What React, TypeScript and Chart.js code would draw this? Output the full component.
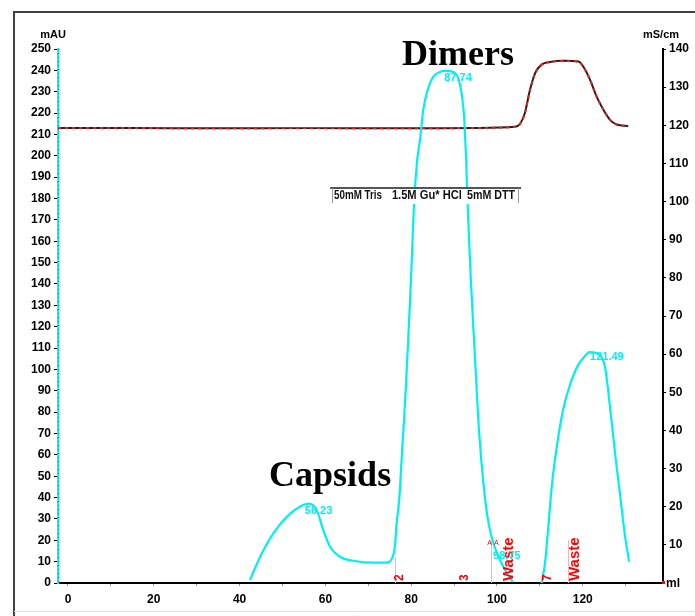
import React, { useEffect, useRef } from 'react';
import { Chart, registerables } from 'chart.js';

Chart.register(...registerables);

// ---- axis ranges / ticks ----
const xMin = -2.33;
const xMax = 138.7;
const xTickValues = [0, 10, 20, 30, 40, 50, 60, 70, 80, 90, 100, 110, 120, 130];
const xLabelValues = [0, 20, 40, 60, 80, 100, 120];
const leftTickValues = [0, 10, 20, 30, 40, 50, 60, 70, 80, 90, 100, 110, 120, 130, 140, 150, 160, 170, 180, 190, 200, 210, 220, 230, 240, 250];
const rightTickValues = [10, 20, 30, 40, 50, 60, 70, 80, 90, 100, 110, 120, 130, 140];

// ---- UV trace (mAU, left axis) ----
const uvX = [42.4, 44.8, 47.9, 51.0, 54.8, 56.2, 58.0, 59.5, 61.1, 63.4, 66.5, 71.2, 74.3, 75.5, 76.2, 76.6, 77.2,
  77.9, 78.6, 79.3, 79.95, 80.7, 81.4, 82.1, 82.8, 83.7, 85.1, 86.7, 87.7, 88.3, 89.9, 91.1, 91.8, 92.3, 92.8, 93.2,
  93.9, 94.9, 95.8, 97.0, 98.1, 99.3, 100.7, 102.3, 103.7,
  107.0,
  110.4, 111.2, 111.9, 112.8, 114.0, 115.4, 117.0, 118.9, 120.7, 121.5, 123.1, 124.5, 125.2, 125.9, 126.8, 127.7, 128.7, 129.8, 130.8];
const uvY = [1.4, 12.3, 23.3, 31.0, 36.5, 37.2, 34.0, 24.8, 17.0, 12.3, 10.4, 9.5, 9.5, 11.5, 17.0, 28.0, 38.9,
  62.3, 85.7, 113.8, 141.9, 179.3, 198.0, 208.3, 221.4, 229.9, 236.9, 239.2, 239.8, 239.7, 239.2, 235.5, 228.5, 219.1, 198.0, 174.6,
  141.9, 104.4, 71.6, 43.5, 27.2, 17.8, 10.8, 4.7, 0.5,
  null,
  0.0, 9.4, 24.8, 45.9, 64.6, 81.0, 92.7, 102.0, 106.7, 108.1, 107.7, 105.3, 101.0, 90.4, 74.0, 57.6, 41.2, 22.5, 10.0];

// ---- conductivity trace (mS/cm, right axis) ----
const condX = [-2.3, 15, 35, 55, 75, 95, 104.2, 105.4, 106.5, 107.7, 108.9, 110.4, 112.4, 115.5, 119.0, 120.1, 121.7, 123.2, 124.8, 126.3, 127.9, 130.6];
const condY = [119.3, 119.3, 119.2, 119.3, 119.2, 119.3, 119.6, 120.4, 123.2, 129.3, 133.7, 135.9, 136.6, 136.9, 136.7, 135.4, 131.9, 127.6, 124.1, 121.5, 120.2, 119.8];

// ---- peak labels ----
const peakLabels = ['56.23', '87.74', '98.75', '121.49'];
const peakLabelX = [55.2, 87.7, 99.1, 121.7];
const peakLabelY = [33.7, 236.4, 12.6, 105.8];

// ---- fractions ----
const fracLabels = ['2', '3', 'Waste', '7', 'Waste'];
const fracLabelX = [77.4, 92.5, 102.8, 111.9, 118.2];
const fracLineX = [76.2, 98.6, 116.6];
const fracLineTop = [12, 20, 20];
const injectMarkX = 100.0;
const injectMarkY = 18.7;

// ---- annotations ----
const bigLabels = ['Dimers', 'Capsids'];
const bigLabelX = [90.9, 61.1];
const bigLabelY = [242.5, 45.6];
const bufferTexts = ['50mM Tris', '1.5M Gu* HCl', '5mM DTT'];
const bufferTextX = [62.0, 75.5, 93.0];
const bufferTextW = [11.2, 16.3, 11.2];
const bufferBoxX = [61.1, 105.6];
const bufferBoxTopY = 184.9;

const CYAN = '#00eef5';
const SANS = "'Liberation Sans', Arial, sans-serif";
const TICK_FONT = { family: SANS, size: 12, weight: 'bold' as const };

const overlayPlugin = {
  id: 'overlay',
  beforeDraw(chart: any) {
    const ctx = chart.ctx;
    ctx.save();
    ctx.fillStyle = '#ffffff';
    ctx.fillRect(0, 0, chart.width, chart.height);
    ctx.restore();
  },
  afterDatasetsDraw(chart: any) {
    const ctx = chart.ctx;
    const xs = chart.scales.x;
    const yl = chart.scales.yL;
    ctx.save();

    // fraction lines
    ctx.strokeStyle = '#ffb0b0';
    ctx.lineWidth = 1;
    fracLineX.forEach((fx, i) => {
      const px = Math.round(xs.getPixelForValue(fx)) + 0.5;
      ctx.beginPath();
      ctx.moveTo(px, yl.getPixelForValue(0));
      ctx.lineTo(px, yl.getPixelForValue(fracLineTop[i]));
      ctx.stroke();
    });

    // fraction labels (rotated)
    ctx.fillStyle = '#ff0000';
    fracLabels.forEach((t, i) => {
      const px = xs.getPixelForValue(fracLabelX[i]);
      const py = yl.getPixelForValue(0) - 2;
      ctx.save();
      ctx.translate(px, py);
      ctx.rotate(-Math.PI / 2);
      ctx.font = t.length > 1 ? `bold 15px ${SANS}` : `bold 12px ${SANS}`;
      ctx.textAlign = 'left';
      ctx.textBaseline = 'middle';
      ctx.fillText(t, 0, 0);
      ctx.restore();
    });
    ctx.font = `7px ${SANS}`;
    ctx.textAlign = 'center';
    ctx.textBaseline = 'middle';
    ctx.fillText('A A', xs.getPixelForValue(injectMarkX) - 4, yl.getPixelForValue(injectMarkY));

    // peak labels
    ctx.fillStyle = CYAN;
    ctx.font = `bold 11px ${SANS}`;
    ctx.textAlign = 'left';
    ctx.textBaseline = 'middle';
    peakLabels.forEach((t, i) => {
      ctx.fillText(t, xs.getPixelForValue(peakLabelX[i]), yl.getPixelForValue(peakLabelY[i]));
    });

    // buffer box
    const bx0 = xs.getPixelForValue(bufferBoxX[0]);
    const bx1 = xs.getPixelForValue(bufferBoxX[1]);
    const by0 = yl.getPixelForValue(bufferBoxTopY);
    ctx.fillStyle = '#ffffff';
    ctx.fillRect(bx0, by0 + 1, bx1 - bx0, 15);
    ctx.strokeStyle = '#555555';
    ctx.lineWidth = 2;
    ctx.beginPath();
    ctx.moveTo(bx0, by0);
    ctx.lineTo(bx1, by0);
    ctx.stroke();
    ctx.strokeStyle = '#999999';
    ctx.lineWidth = 1;
    ctx.beginPath();
    ctx.moveTo(Math.round(bx0) + 2.5, by0);
    ctx.lineTo(Math.round(bx0) + 2.5, by0 + 15);
    ctx.moveTo(Math.round(bx1) - 2.5, by0);
    ctx.lineTo(Math.round(bx1) - 2.5, by0 + 15);
    ctx.stroke();
    ctx.fillStyle = '#111111';
    ctx.font = `bold 12px ${SANS}`;
    ctx.textAlign = 'left';
    ctx.textBaseline = 'middle';
    bufferTexts.forEach((t, i) => {
      const x0 = xs.getPixelForValue(bufferTextX[i]);
      const w = xs.getPixelForValue(bufferTextX[i] + bufferTextW[i]) - x0;
      ctx.fillText(t, x0, by0 + 8, w);
    });

    // big labels
    ctx.fillStyle = '#000000';
    ctx.font = "bold 36px 'Liberation Serif', 'Times New Roman', serif";
    ctx.textAlign = 'center';
    ctx.textBaseline = 'alphabetic';
    bigLabels.forEach((t, i) => {
      ctx.fillText(t, xs.getPixelForValue(bigLabelX[i]), yl.getPixelForValue(bigLabelY[i]));
    });

    ctx.restore();
  },
  afterDraw(chart: any) {
    const ctx = chart.ctx;
    const area = chart.chartArea;
    ctx.save();
    // red dotted overlay on the left axis
    ctx.strokeStyle = '#ff2020';
    ctx.lineWidth = 1;
    ctx.setLineDash([1, 3]);
    ctx.beginPath();
    ctx.moveTo(area.left + 0.5, area.top);
    ctx.lineTo(area.left + 0.5, area.bottom);
    ctx.stroke();
    ctx.setLineDash([]);
    // red end marker of x axis
    ctx.fillStyle = '#ff0000';
    ctx.fillRect(area.right - 1, area.bottom - 2, 3, 3);

    // axis unit labels
    ctx.fillStyle = '#000000';
    ctx.font = `bold 11px ${SANS}`;
    ctx.textBaseline = 'middle';
    ctx.textAlign = 'center';
    ctx.fillText('mAU', area.left - 5, 35);
    ctx.fillText('mS/cm', area.right - 2, 35);
    ctx.textAlign = 'left';
    ctx.font = `bold 12px ${SANS}`;
    ctx.fillText('ml', area.right + 3, area.bottom + 1);

    // frame
    ctx.strokeStyle = '#404040';
    ctx.lineWidth = 2;
    ctx.beginPath();
    ctx.moveTo(14, chart.height);
    ctx.lineTo(14, 12);
    ctx.lineTo(chart.width, 12);
    ctx.stroke();
    ctx.strokeStyle = '#dddddd';
    ctx.lineWidth = 1;
    ctx.beginPath();
    ctx.moveTo(14, 611.5);
    ctx.lineTo(chart.width, 611.5);
    ctx.stroke();
    ctx.restore();
  },
};

export default function App() {
  const canvasRef = useRef<HTMLCanvasElement | null>(null);

  useEffect(() => {
    const canvas = canvasRef.current;
    if (!canvas) return;
    const uvPoints = uvX.map((x, i) => ({ x, y: uvY[i] }));
    const condPoints = condX.map((x, i) => ({ x, y: condY[i] }));

    const chart = new Chart(canvas, {
      type: 'scatter',
      data: {
        datasets: [
          {
            data: uvPoints as any,
            yAxisID: 'yL',
            showLine: true,
            borderColor: CYAN,
            borderWidth: 2.2,
            pointRadius: 0,
            cubicInterpolationMode: 'monotone',
            spanGaps: false,
          },
          {
            data: condPoints as any,
            yAxisID: 'yR',
            showLine: true,
            borderColor: '#ff1a1a',
            borderWidth: 2,
            borderDash: [3, 4],
            pointRadius: 0,
            cubicInterpolationMode: 'monotone',
          },
          {
            data: condPoints as any,
            yAxisID: 'yR',
            showLine: true,
            borderColor: '#222222',
            borderWidth: 2,
            pointRadius: 0,
            cubicInterpolationMode: 'monotone',
          },
        ],
      },
      options: {
        animation: false,
        responsive: false,
        devicePixelRatio: 1,
        layout: { padding: { top: 49, left: 0, right: 0, bottom: 0 } },
        plugins: { legend: { display: false }, tooltip: { enabled: false } },
        scales: {
          x: {
            type: 'linear',
            position: 'bottom',
            min: xMin,
            max: xMax,
            afterBuildTicks: (scale: any) => {
              scale.ticks = xTickValues.map((v) => ({ value: v }));
            },
            afterFit: (scale: any) => {
              scale.height = 33;
            },
            border: { color: '#000000', width: 2 },
            grid: { drawOnChartArea: false, drawTicks: true, tickLength: 3, color: '#999999' },
            ticks: {
              color: '#000000',
              font: TICK_FONT,
              padding: 6,
              maxRotation: 0,
              autoSkip: false,
              callback: (v: any) => (xLabelValues.includes(Number(v)) ? String(v) : ''),
            },
          },
          yL: {
            type: 'linear',
            position: 'left',
            min: 0,
            max: 250,
            afterBuildTicks: (scale: any) => {
              scale.ticks = leftTickValues.map((v) => ({ value: v }));
            },
            afterFit: (scale: any) => {
              scale.width = 58;
            },
            border: { color: CYAN, width: 2 },
            grid: { drawOnChartArea: false, drawTicks: true, tickLength: 4, color: '#000000' },
            ticks: { color: '#000000', font: TICK_FONT, padding: 3, autoSkip: false },
          },
          yR: {
            type: 'linear',
            position: 'right',
            min: 0,
            max: 140,
            afterBuildTicks: (scale: any) => {
              scale.ticks = rightTickValues.map((v) => ({ value: v }));
            },
            afterFit: (scale: any) => {
              scale.width = 32;
            },
            border: { color: '#000000', width: 2 },
            grid: { drawOnChartArea: false, drawTicks: true, tickLength: 3, color: '#000000' },
            ticks: { color: '#000000', font: TICK_FONT, padding: 3, autoSkip: false },
          },
        },
      },
      plugins: [overlayPlugin],
    });

    return () => {
      chart.destroy();
    };
  }, []);

  return (
    <div style={{ position: 'absolute', left: 0, top: 0, width: 695, height: 616, background: '#ffffff' }}>
      <canvas ref={canvasRef} width={695} height={616} style={{ display: 'block', width: 695, height: 616 }} />
    </div>
  );
}
